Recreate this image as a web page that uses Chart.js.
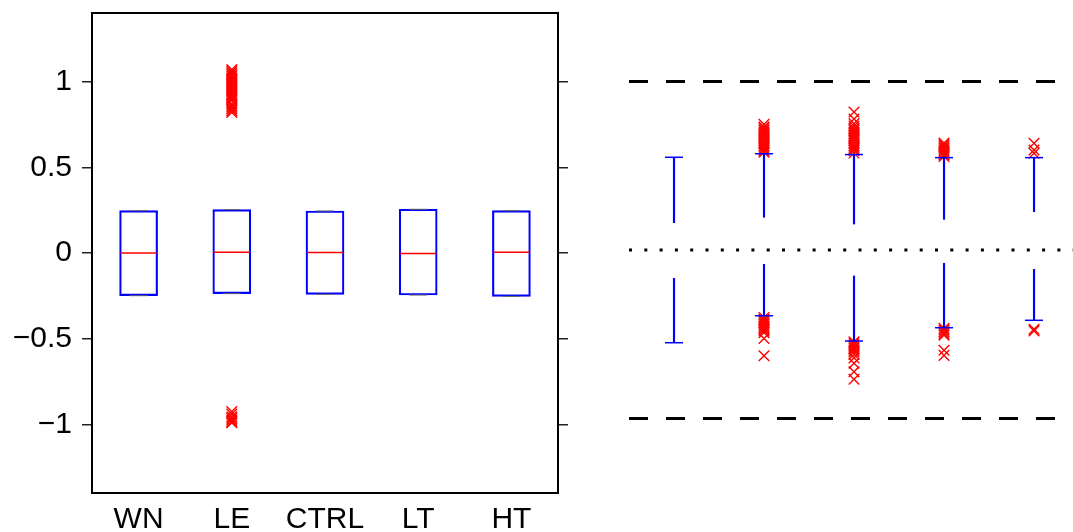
<!DOCTYPE html>
<html>
<head>
<meta charset="utf-8">
<script src="https://cdn.jsdelivr.net/npm/chart.js@4.4.1/dist/chart.umd.min.js"></script>
<style>
  html, body { margin: 0; padding: 0; background: #fff; overflow: hidden; }
  #wrap { position: relative; width: 1073px; height: 532px; overflow: hidden; }
  #left { position: absolute; left: 0; top: 0; }
  #right { position: absolute; left: 580px; top: 0; }
</style>
</head>
<body>
<div id="wrap">
  <canvas id="left" width="580" height="532"></canvas>
  <canvas id="right" width="493" height="532"></canvas>
</div>
<script>
// ---- left panel: box plots per condition ----
const categories = ['WN', 'LE', 'CTRL', 'LT', 'HT'];
const q1Values     = [-0.249, -0.237, -0.241, -0.245, -0.253];
const medianValues = [ 0.000,  0.005,  0.003, -0.003,  0.005];
const q3Values     = [ 0.247,  0.253,  0.245,  0.255,  0.247];
const whiskerLow   = [-0.249, -0.237, -0.241, -0.245, -0.253];
const whiskerHigh  = [ 0.247,  0.253,  0.245,  0.255,  0.247];
const leOutliers = [
  1.07, 1.06, 1.05, 1.04, 1.03, 1.02, 1.01, 1.00, 0.99, 0.98, 0.97, 0.96, 0.95,
  0.94, 0.93, 0.92, 0.91, 0.90, 0.89, 0.87, 0.86, 0.85, 0.84, 0.83, 0.82,
  -0.925, -0.94, -0.955, -0.965, -0.975, -0.985, -0.99
];
const yTicks = [-1, -0.5, 0, 0.5, 1];

// ---- right panel: whiskers and outliers per group ----
const groups = [1, 2, 3, 4, 5];
const upperInner = [0.162, 0.194, 0.154, 0.182, 0.227];
const upperCap   = [0.550, 0.571, 0.566, 0.548, 0.548];
const lowerInner = [-0.168, -0.085, -0.154, -0.079, -0.115];
const lowerCap   = [-0.550, -0.390, -0.540, -0.461, -0.417];
const outliersG1 = [];
const outliersG2 = [0.58, 0.59, 0.60, 0.61, 0.62, 0.63, 0.64, 0.65, 0.66, 0.67, 0.68, 0.69,
  0.70, 0.71, 0.72, 0.73, 0.745,
  -0.40, -0.41, -0.42, -0.43, -0.44, -0.45, -0.46, -0.47, -0.48, -0.49, -0.525, -0.627];
const outliersG3 = [0.575, 0.59, 0.60, 0.61, 0.62, 0.635, 0.65, 0.66, 0.67, 0.68, 0.69,
  0.70, 0.71, 0.72, 0.735, 0.75, 0.777, 0.819,
  -0.545, -0.555, -0.565, -0.575, -0.585, -0.595, -0.605, -0.62, -0.64, -0.672, -0.722, -0.767];
const outliersG4 = [0.555, 0.565, 0.575, 0.585, 0.595, 0.605, 0.615, 0.625, 0.635,
  -0.465, -0.475, -0.485, -0.495, -0.505, -0.595, -0.625];
const outliersG5 = [0.574, 0.593, 0.633, -0.47, -0.48];
const boundLines = [1, -1];
const centerLine = 0;
const xRangeRight = [0.5, 5.433];

Chart.defaults.font.family = '"Liberation Sans", Arial, Helvetica, sans-serif';
Chart.defaults.animation = false;
Chart.defaults.events = [];
Chart.defaults.plugins.legend.display = false;
Chart.defaults.plugins.tooltip.enabled = false;

const BLUE = '#0000ff';
const RED = '#ff0000';

// black box around the left plot area
const frame = {
  id: 'frame',
  afterDraw(chart) {
    const a = chart.chartArea, ctx = chart.ctx;
    ctx.save();
    ctx.strokeStyle = '#000';
    ctx.lineWidth = 2;
    ctx.strokeRect(a.left, a.top, a.right - a.left, a.bottom - a.top);
    ctx.restore();
  }
};

const minus = v => String(v).replace('-', '\u2212');
const fitY = w => s => { s.width = w; s.paddingTop = 0; s.paddingBottom = 0; };

const outlierPoints = [];
leOutliers.forEach(v => outlierPoints.push({ x: 'LE', y: v }));

new Chart(document.getElementById('left'), {
  type: 'bar',
  data: {
    labels: categories,
    datasets: [
      {
        label: 'box',
        data: categories.map((c, i) => [q1Values[i], q3Values[i]]),
        backgroundColor: 'rgba(0,0,0,0)',
        borderColor: BLUE,
        borderWidth: 1.5,
        borderSkipped: false,
        barThickness: 38,
        grouped: false,
        order: 3
      },
      {
        type: 'scatter',
        label: 'median',
        data: categories.map((c, i) => ({ x: c, y: medianValues[i] })),
        pointStyle: 'line',
        radius: 18,
        borderColor: RED,
        borderWidth: 1.5,
        order: 2
      },
      {
        type: 'scatter',
        label: 'whisker caps',
        data: categories.map((c, i) => ({ x: c, y: whiskerHigh[i] }))
          .concat(categories.map((c, i) => ({ x: c, y: whiskerLow[i] }))),
        pointStyle: 'line',
        radius: 9,
        borderColor: '#666',
        borderWidth: 1,
        order: 2
      },
      {
        type: 'scatter',
        label: 'outliers',
        data: outlierPoints,
        pointStyle: 'crossRot',
        radius: 7.5,
        borderColor: RED,
        borderWidth: 1.4,
        order: 1
      }
    ]
  },
  options: {
    responsive: false,
    layout: { autoPadding: false, padding: { top: 13, right: 0, left: 0, bottom: 0 } },
    scales: {
      x: {
        type: 'category',
        offset: true,
        grid: { display: false, drawTicks: false },
        border: { display: false },
        ticks: { color: '#000', font: { size: 30 }, padding: 9, maxRotation: 0 },
        afterFit: s => { s.height = 39; s.paddingLeft = 0; s.paddingRight = 0; }
      },
      y: {
        position: 'left',
        min: -1.4, max: 1.4,
        afterBuildTicks: s => { s.ticks = yTicks.map(v => ({ value: v })); },
        grid: { drawOnChartArea: false, drawTicks: true, tickLength: 10, color: '#222', lineWidth: 1.5 },
        border: { display: false },
        ticks: { color: '#000', font: { size: 30 }, padding: 10, callback: v => minus(v) },
        afterFit: fitY(92)
      },
      yRight: {
        position: 'right',
        min: -1.4, max: 1.4,
        afterBuildTicks: s => { s.ticks = yTicks.map(v => ({ value: v })); },
        grid: { drawOnChartArea: false, drawTicks: true, tickLength: 10, color: '#222', lineWidth: 1.5 },
        border: { display: false },
        ticks: { display: false },
        afterFit: fitY(22)
      }
    }
  },
  plugins: [frame]
});

// ---- right panel ----
const groupOutliers = [outliersG1, outliersG2, outliersG3, outliersG4, outliersG5];
const rightOutlierPoints = [];
groupOutliers.forEach((arr, i) => arr.forEach(v => rightOutlierPoints.push({ x: groups[i], y: v })));

const hLine = (y, dash, label) => ({
  type: 'line',
  label,
  data: [{ x: xRangeRight[0], y }, { x: xRangeRight[1], y }],
  borderColor: '#000',
  borderWidth: 3,
  borderDash: dash,
  borderCapStyle: 'butt',
  pointRadius: 0,
  clip: false
});

new Chart(document.getElementById('right'), {
  type: 'bar',
  data: {
    datasets: [
      hLine(boundLines[0], [19, 18], 'upper bound'),
      hLine(boundLines[1], [19, 18], 'lower bound'),
      hLine(centerLine, [3, 12.3], 'center'),
      {
        label: 'upper whiskers',
        data: groups.map((g, i) => ({ x: g, y: [upperInner[i], upperCap[i]] })),
        backgroundColor: BLUE,
        borderWidth: 0,
        barThickness: 1.5,
        grouped: false
      },
      {
        label: 'lower whiskers',
        data: groups.map((g, i) => ({ x: g, y: [lowerInner[i], lowerCap[i]] })),
        backgroundColor: BLUE,
        borderWidth: 0,
        barThickness: 1.5,
        grouped: false
      },
      {
        type: 'scatter',
        label: 'outliers',
        data: rightOutlierPoints,
        pointStyle: 'crossRot',
        radius: 7.5,
        borderColor: RED,
        borderWidth: 1.4,
        order: 1
      },
      {
        type: 'scatter',
        label: 'caps',
        data: groups.map((g, i) => ({ x: g, y: upperCap[i] }))
          .concat(groups.map((g, i) => ({ x: g, y: lowerCap[i] }))),
        pointStyle: 'line',
        radius: 9,
        borderColor: BLUE,
        borderWidth: 1.5,
        order: 0
      }
    ]
  },
  options: {
    responsive: false,
    layout: { autoPadding: false, padding: { left: 49, right: 0, top: 14, bottom: 46 } },
    scales: {
      x: { type: 'linear', min: xRangeRight[0], max: xRangeRight[1], offset: false, display: false },
      y: { type: 'linear', min: -1.4, max: 1.4, display: false }
    }
  }
});
</script>
</body>
</html>
